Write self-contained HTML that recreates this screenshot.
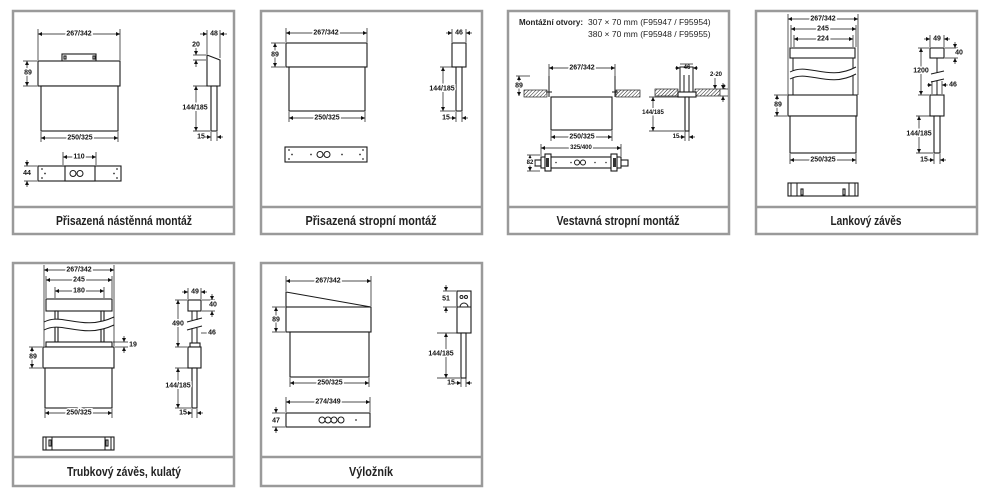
<!DOCTYPE html>
<html><head><meta charset="utf-8"><style>
html,body{margin:0;padding:0;background:#fff}
svg{display:block}
.d{font-family:"Liberation Sans",sans-serif;font-size:7px;font-weight:bold;text-anchor:middle;fill:#111;stroke:#fff;stroke-width:3;paint-order:stroke;dominant-baseline:central}
.l{font-family:"Liberation Sans",sans-serif;font-size:12.5px;font-weight:bold;text-anchor:middle;fill:#222}
.t{font-family:"Liberation Sans",sans-serif;font-size:8.5px;fill:#222}
.dl{stroke:#111;stroke-width:.7;fill:none}
.o{stroke:#1a1a1a;stroke-width:1.1;fill:#fff}
.w{stroke:#1a1a1a;stroke-width:1;fill:none}
.p{fill:none;stroke:#9a9a9a;stroke-width:2.5}
</style></head><body>
<svg width="1000" height="497" viewBox="0 0 1000 497" xmlns="http://www.w3.org/2000/svg">
<defs>
<marker id="a" viewBox="0 0 6 6" refX="6" refY="3" markerUnits="userSpaceOnUse" markerWidth="4" markerHeight="4" orient="auto-start-reverse"><path d="M0,0L6,3L0,6z" fill="#111"/></marker>
<pattern id="h" width="2.5" height="2.5" patternUnits="userSpaceOnUse" patternTransform="rotate(45)"><line x1="0" y1="0" x2="0" y2="2.5" stroke="#222" stroke-width="1"/></pattern>
</defs>

<g class="p">
<rect x="13" y="11" width="221" height="223"/><line x1="13" y1="207" x2="234" y2="207"/>
<rect x="261" y="11" width="221" height="223"/><line x1="261" y1="207" x2="482" y2="207"/>
<rect x="508" y="11" width="221" height="223"/><line x1="508" y1="207" x2="729" y2="207"/>
<rect x="756" y="11" width="221" height="223"/><line x1="756" y1="207" x2="977" y2="207"/>
<rect x="13" y="263" width="221" height="223"/><line x1="13" y1="457" x2="234" y2="457"/>
<rect x="261" y="263" width="221" height="223"/><line x1="261" y1="457" x2="482" y2="457"/>
</g>
<text class="l" x="124" y="225" textLength="136" lengthAdjust="spacingAndGlyphs">Přisazená nástěnná montáž</text>
<text class="l" x="371" y="225" textLength="131" lengthAdjust="spacingAndGlyphs">Přisazená stropní montáž</text>
<text class="l" x="618" y="225" textLength="123" lengthAdjust="spacingAndGlyphs">Vestavná stropní montáž</text>
<text class="l" x="866" y="225" textLength="71" lengthAdjust="spacingAndGlyphs">Lankový závěs</text>
<text class="l" x="124" y="476" textLength="114" lengthAdjust="spacingAndGlyphs">Trubkový závěs, kulatý</text>
<text class="l" x="371" y="476" textLength="44" lengthAdjust="spacingAndGlyphs">Výložník</text>

<!-- PANEL 1 -->
<rect class="o" x="62" y="54" width="34" height="7"/>
<rect class="o" x="64" y="56" width="2" height="3"/><rect class="o" x="93" y="56" width="2" height="3"/>
<rect class="o" x="38" y="61" width="82" height="25"/>
<rect class="o" x="41" y="86" width="77" height="45"/>
<g class="dl"><line x1="38" y1="29" x2="38" y2="60"/><line x1="120" y1="29" x2="120" y2="60"/>
<line x1="38" y1="34" x2="120" y2="34" marker-start="url(#a)" marker-end="url(#a)"/>
<line x1="23" y1="61" x2="37" y2="61"/><line x1="23" y1="86" x2="37" y2="86"/>
<line x1="27" y1="61" x2="27" y2="86" marker-start="url(#a)" marker-end="url(#a)"/>
<line x1="41" y1="132" x2="41" y2="142"/><line x1="118" y1="132" x2="118" y2="142"/>
<line x1="41" y1="138" x2="118" y2="138" marker-start="url(#a)" marker-end="url(#a)"/></g>
<text class="d" x="79" y="34">267/342</text><text class="d" x="28" y="73">89</text><text class="d" x="80" y="138">250/325</text>
<path class="o" d="M207,55 L220,60 L220,86 L207,86 Z"/>
<rect class="o" x="211" y="86" width="6" height="45"/>
<g class="dl"><line x1="207" y1="30" x2="207" y2="54"/><line x1="220" y1="30" x2="220" y2="58"/>
<line x1="200" y1="34" x2="207" y2="34" marker-end="url(#a)"/><line x1="227" y1="34" x2="220" y2="34" marker-end="url(#a)"/>
<line x1="193" y1="55" x2="206" y2="55"/><line x1="193" y1="60" x2="206" y2="60"/>
<line x1="196" y1="48" x2="196" y2="55" marker-end="url(#a)"/><line x1="196" y1="67" x2="196" y2="60" marker-end="url(#a)"/>
<line x1="193" y1="86" x2="210" y2="86"/><line x1="193" y1="131" x2="210" y2="131"/>
<line x1="196" y1="86" x2="196" y2="131" marker-start="url(#a)" marker-end="url(#a)"/>
<line x1="211" y1="132" x2="211" y2="141"/><line x1="217" y1="132" x2="217" y2="141"/>
<line x1="205" y1="137" x2="211" y2="137" marker-end="url(#a)"/><line x1="223" y1="137" x2="217" y2="137" marker-end="url(#a)"/></g>
<text class="d" x="214" y="34" style="stroke-width:0">48</text><text class="d" x="196" y="45" style="stroke-width:0">20</text>
<text class="d" x="195" y="108">144/185</text><text class="d" x="201" y="137" style="stroke-width:0">15</text>
<rect class="o" x="38" y="166" width="83" height="15"/>
<rect class="o" x="65" y="166" width="30" height="15"/>
<circle class="w" cx="73" cy="173.5" r="3"/><circle class="w" cx="80" cy="173.5" r="3"/>
<g fill="#333"><circle cx="42" cy="169" r=".9"/><circle cx="42" cy="178" r=".9"/><circle cx="45" cy="173.5" r=".9"/><circle cx="117" cy="169" r=".9"/><circle cx="117" cy="178" r=".9"/><circle cx="114" cy="173.5" r=".9"/></g>
<g class="dl"><line x1="63" y1="152" x2="63" y2="165"/><line x1="96" y1="152" x2="96" y2="165"/>
<line x1="63" y1="157" x2="96" y2="157" marker-start="url(#a)" marker-end="url(#a)"/>
<line x1="24" y1="166" x2="37" y2="166"/><line x1="24" y1="181" x2="37" y2="181"/>
<line x1="27" y1="160" x2="27" y2="166" marker-end="url(#a)"/><line x1="27" y1="187" x2="27" y2="181" marker-end="url(#a)"/></g>
<text class="d" x="79" y="157">110</text><text class="d" x="27" y="173.5">44</text>

<!-- PANEL 2 -->
<rect class="o" x="286" y="43" width="81" height="24"/>
<rect class="o" x="289" y="67" width="76" height="44"/>
<g class="dl"><line x1="286" y1="28" x2="286" y2="42"/><line x1="367" y1="28" x2="367" y2="42"/>
<line x1="286" y1="33" x2="367" y2="33" marker-start="url(#a)" marker-end="url(#a)"/>
<line x1="271" y1="43" x2="285" y2="43"/><line x1="271" y1="67" x2="285" y2="67"/>
<line x1="275" y1="43" x2="275" y2="67" marker-start="url(#a)" marker-end="url(#a)"/>
<line x1="289" y1="112" x2="289" y2="122"/><line x1="365" y1="112" x2="365" y2="122"/>
<line x1="289" y1="118" x2="365" y2="118" marker-start="url(#a)" marker-end="url(#a)"/></g>
<text class="d" x="326" y="33">267/342</text><text class="d" x="275" y="55">89</text><text class="d" x="327" y="118">250/325</text>
<rect class="o" x="452" y="43" width="14" height="24"/>
<rect class="o" x="456" y="67" width="6" height="44"/>
<g class="dl"><line x1="452" y1="29" x2="452" y2="42"/><line x1="466" y1="29" x2="466" y2="42"/>
<line x1="446" y1="33" x2="452" y2="33" marker-end="url(#a)"/><line x1="472" y1="33" x2="466" y2="33" marker-end="url(#a)"/>
<line x1="440" y1="67" x2="455" y2="67"/><line x1="440" y1="111" x2="455" y2="111"/>
<line x1="443" y1="67" x2="443" y2="111" marker-start="url(#a)" marker-end="url(#a)"/>
<line x1="456" y1="112" x2="456" y2="122"/><line x1="462" y1="112" x2="462" y2="122"/>
<line x1="450" y1="118" x2="456" y2="118" marker-end="url(#a)"/><line x1="468" y1="118" x2="462" y2="118" marker-end="url(#a)"/></g>
<text class="d" x="459" y="33" style="stroke-width:0">46</text><text class="d" x="442" y="89">144/185</text><text class="d" x="446" y="118" style="stroke-width:0">15</text>
<rect class="o" x="285" y="147" width="82" height="15"/>
<circle class="w" cx="320" cy="154.5" r="3"/><circle class="w" cx="327" cy="154.5" r="3"/>
<g fill="#333"><circle cx="289" cy="150" r=".9"/><circle cx="289" cy="159" r=".9"/><circle cx="292" cy="154.5" r=".9"/><circle cx="311" cy="154.5" r=".9"/><circle cx="342" cy="154.5" r=".9"/><circle cx="363" cy="150" r=".9"/><circle cx="363" cy="159" r=".9"/><circle cx="360" cy="154.5" r=".9"/></g>

<!-- PANEL 3 -->
<text class="t" x="519" y="25" style="font-weight:bold" textLength="64" lengthAdjust="spacingAndGlyphs">Montážní otvory:</text>
<text class="t" x="588" y="25">307 × 70 mm (F95947 / F95954)</text>
<text class="t" x="588" y="37">380 × 70 mm (F95948 / F95955)</text>
<rect x="524" y="90" width="23" height="7" fill="url(#h)" stroke="#222" stroke-width=".7"/>
<rect x="616" y="90" width="24" height="7" fill="url(#h)" stroke="#222" stroke-width=".7"/>
<path class="w" d="M549,76 L549,97 M615,76 L615,97 M546,92 L552,92 M612,92 L618,92"/>
<rect class="o" x="551" y="97" width="61" height="33"/>
<g class="dl"><line x1="549" y1="64" x2="549" y2="76"/><line x1="615" y1="64" x2="615" y2="76"/>
<line x1="549" y1="68" x2="615" y2="68" marker-start="url(#a)" marker-end="url(#a)"/>
<line x1="516" y1="76" x2="530" y2="76"/>
<line x1="519" y1="76" x2="519" y2="96" marker-start="url(#a)" marker-end="url(#a)"/>
<line x1="551" y1="131" x2="551" y2="141"/><line x1="612" y1="131" x2="612" y2="141"/>
<line x1="551" y1="137" x2="612" y2="137" marker-start="url(#a)" marker-end="url(#a)"/></g>
<text class="d" x="582" y="68">267/342</text><text class="d" x="519" y="86">89</text><text class="d" x="582" y="137">250/325</text>
<rect x="655" y="89" width="23" height="7" fill="url(#h)" stroke="#222" stroke-width=".7"/>
<rect x="695" y="89" width="25" height="7" fill="url(#h)" stroke="#222" stroke-width=".7"/>
<path class="w" d="M680,92 L680,67 L693,67 L693,92 M684,92 L684,75 M689,92 L689,75"/>
<rect class="o" x="678" y="92" width="18" height="5"/>
<rect class="o" x="685" y="97" width="4" height="34"/>
<g class="dl"><line x1="680" y1="64" x2="693" y2="64"/>
<line x1="675" y1="68" x2="680" y2="68" marker-end="url(#a)"/><line x1="698" y1="68" x2="693" y2="68" marker-end="url(#a)"/>
<line x1="715" y1="78" x2="715" y2="89" marker-end="url(#a)"/>
<line x1="720" y1="89" x2="728" y2="89"/><line x1="720" y1="96" x2="728" y2="96"/>
<line x1="723" y1="83" x2="723" y2="89" marker-end="url(#a)"/><line x1="723" y1="102" x2="723" y2="96" marker-end="url(#a)"/>
<line x1="649" y1="97" x2="684" y2="97"/><line x1="649" y1="131" x2="684" y2="131"/>
<line x1="653" y1="97" x2="653" y2="131" marker-start="url(#a)" marker-end="url(#a)"/>
<line x1="685" y1="131" x2="685" y2="141"/><line x1="689" y1="131" x2="689" y2="141"/>
<line x1="679" y1="137" x2="685" y2="137" marker-end="url(#a)"/><line x1="695" y1="137" x2="689" y2="137" marker-end="url(#a)"/></g>
<text class="d" x="687" y="68" style="stroke-width:0;font-size:6px">46</text><text class="d" x="716" y="75" style="stroke-width:0;font-size:6px">2-20</text>
<text class="d" x="724" y="88" style="stroke-width:0;font-size:6px">2</text>
<text class="d" x="653" y="113" style="font-size:6px">144/185</text><text class="d" x="676" y="137" style="stroke-width:0;font-size:6px">15</text>
<rect class="o" x="535" y="160" width="93" height="6"/>
<rect class="o" x="541" y="157" width="80" height="11"/>
<rect class="o" x="545" y="154" width="6" height="17"/><rect class="o" x="611" y="154" width="6" height="17"/>
<rect fill="#333" x="546" y="158" width="3" height="9"/><rect fill="#333" x="613" y="158" width="3" height="9"/>
<circle class="w" cx="577" cy="162.5" r="2.5"/><circle class="w" cx="583" cy="162.5" r="2.5"/>
<g fill="#333"><circle cx="556" cy="162.5" r=".8"/><circle cx="571" cy="162.5" r=".8"/><circle cx="595" cy="162.5" r=".8"/><circle cx="606" cy="162.5" r=".8"/></g>
<g class="dl"><line x1="541" y1="144" x2="541" y2="156"/><line x1="621" y1="144" x2="621" y2="156"/>
<line x1="541" y1="148" x2="621" y2="148" marker-start="url(#a)" marker-end="url(#a)"/>
<line x1="527" y1="155" x2="540" y2="155"/><line x1="527" y1="171" x2="540" y2="171"/>
<line x1="530" y1="155" x2="530" y2="171" marker-start="url(#a)" marker-end="url(#a)"/></g>
<text class="d" x="581" y="148" style="font-size:6px">325/400</text><text class="d" x="530" y="163" style="font-size:6px">82</text>

<!-- PANEL 4 -->
<rect class="o" x="790" y="48" width="65" height="10"/>
<path class="w" d="M793,58 L793,95 M853,58 L853,95"/>
<path d="M790,72 C808,62 828,82 856,67 L856,74 C828,89 808,69 790,79 Z" fill="#fff" stroke="none"/>
<path class="w" d="M790,72 C808,62 828,82 856,67 M790,79 C808,69 828,89 856,74"/>
<rect class="o" x="788" y="95" width="69" height="21"/>
<rect class="o" x="790" y="116" width="66" height="37"/>
<g class="dl"><line x1="788" y1="14" x2="788" y2="95"/><line x1="858" y1="14" x2="858" y2="95"/>
<line x1="788" y1="19" x2="858" y2="19" marker-start="url(#a)" marker-end="url(#a)"/>
<line x1="791" y1="25" x2="791" y2="47"/><line x1="856" y1="25" x2="856" y2="47"/>
<line x1="791" y1="29" x2="856" y2="29" marker-start="url(#a)" marker-end="url(#a)"/>
<line x1="794" y1="35" x2="794" y2="47"/><line x1="853" y1="35" x2="853" y2="47"/>
<line x1="794" y1="39" x2="853" y2="39" marker-start="url(#a)" marker-end="url(#a)"/>
<line x1="774" y1="95" x2="787" y2="95"/><line x1="774" y1="116" x2="787" y2="116"/>
<line x1="777" y1="95" x2="777" y2="116" marker-start="url(#a)" marker-end="url(#a)"/>
<line x1="790" y1="154" x2="790" y2="164"/><line x1="856" y1="154" x2="856" y2="164"/>
<line x1="790" y1="160" x2="856" y2="160" marker-start="url(#a)" marker-end="url(#a)"/></g>
<text class="d" x="823" y="19">267/342</text><text class="d" x="823" y="29">245</text><text class="d" x="823" y="39">224</text>
<text class="d" x="778" y="105">89</text><text class="d" x="823" y="160">250/325</text>
<rect class="o" x="788" y="183" width="70" height="13"/>
<path class="w" d="M791,183 L791,196 M855,183 L855,196 M797,183 L797,196 M849,183 L849,196"/>
<rect class="o" x="801" y="189" width="2" height="6"/><rect class="o" x="843" y="189" width="2" height="6"/>
<rect class="o" x="930" y="48" width="14" height="10"/>
<path class="w" d="M937,58 L937,73 M937,81 L937,95 M931,74 L944,71 M931,82 L944,79"/>
<rect class="o" x="930" y="95" width="14" height="21"/>
<rect class="o" x="934" y="116" width="6" height="37"/>
<g class="dl"><line x1="930" y1="35" x2="930" y2="47"/><line x1="944" y1="35" x2="944" y2="47"/>
<line x1="924" y1="39" x2="930" y2="39" marker-end="url(#a)"/><line x1="950" y1="39" x2="944" y2="39" marker-end="url(#a)"/>
<line x1="945" y1="48" x2="958" y2="48"/><line x1="945" y1="58" x2="958" y2="58"/>
<line x1="955" y1="42" x2="955" y2="48" marker-end="url(#a)"/><line x1="955" y1="64" x2="955" y2="58" marker-end="url(#a)"/>
<line x1="918" y1="48" x2="929" y2="48"/><line x1="918" y1="95" x2="929" y2="95"/>
<line x1="921" y1="48" x2="921" y2="95" marker-start="url(#a)" marker-end="url(#a)"/>
<line x1="932" y1="81" x2="932" y2="94"/><line x1="942" y1="81" x2="942" y2="94"/>
<line x1="927" y1="85" x2="932" y2="85" marker-end="url(#a)"/><line x1="948" y1="85" x2="942" y2="85" marker-end="url(#a)"/>
<line x1="916" y1="116" x2="933" y2="116"/><line x1="916" y1="153" x2="933" y2="153"/>
<line x1="919" y1="116" x2="919" y2="153" marker-start="url(#a)" marker-end="url(#a)"/>
<line x1="934" y1="154" x2="934" y2="164"/><line x1="940" y1="154" x2="940" y2="164"/>
<line x1="928" y1="160" x2="934" y2="160" marker-end="url(#a)"/><line x1="946" y1="160" x2="940" y2="160" marker-end="url(#a)"/></g>
<text class="d" x="937" y="39" style="stroke-width:0">49</text><text class="d" x="959" y="53">40</text>
<text class="d" x="921" y="71">1200</text><text class="d" x="953" y="85">46</text>
<text class="d" x="919" y="134">144/185</text><text class="d" x="924" y="160" style="stroke-width:0">15</text>

<!-- PANEL 5 -->
<rect class="o" x="46" y="299" width="66" height="12"/>
<rect class="o" x="55" y="311" width="3" height="31"/><rect class="o" x="101" y="311" width="3" height="31"/>
<path d="M44,322 C62,312 82,332 114,317 L114,325 C82,340 62,320 44,330 Z" fill="#fff" stroke="none"/>
<path class="w" d="M44,322 C62,312 82,332 114,317 M44,330 C62,320 82,340 114,325"/>
<rect class="o" x="46" y="342" width="66" height="5"/>
<rect class="o" x="43" y="347" width="71" height="21"/>
<rect class="o" x="45" y="368" width="67" height="40"/>
<g class="dl"><line x1="44" y1="265" x2="44" y2="346"/><line x1="114" y1="265" x2="114" y2="346"/>
<line x1="44" y1="270" x2="114" y2="270" marker-start="url(#a)" marker-end="url(#a)"/>
<line x1="46" y1="276" x2="46" y2="298"/><line x1="112" y1="276" x2="112" y2="298"/>
<line x1="46" y1="280" x2="112" y2="280" marker-start="url(#a)" marker-end="url(#a)"/>
<line x1="55" y1="287" x2="55" y2="298"/><line x1="104" y1="287" x2="104" y2="298"/>
<line x1="55" y1="291" x2="104" y2="291" marker-start="url(#a)" marker-end="url(#a)"/>
<line x1="113" y1="342" x2="128" y2="342"/><line x1="115" y1="347" x2="128" y2="347"/>
<line x1="124" y1="336" x2="124" y2="342" marker-end="url(#a)"/><line x1="124" y1="353" x2="124" y2="347" marker-end="url(#a)"/>
<line x1="29" y1="347" x2="42" y2="347"/><line x1="29" y1="368" x2="42" y2="368"/>
<line x1="32" y1="347" x2="32" y2="368" marker-start="url(#a)" marker-end="url(#a)"/>
<line x1="45" y1="409" x2="45" y2="418"/><line x1="112" y1="409" x2="112" y2="418"/>
<line x1="45" y1="413" x2="112" y2="413" marker-start="url(#a)" marker-end="url(#a)"/></g>
<text class="d" x="79" y="270">267/342</text><text class="d" x="79" y="280">245</text><text class="d" x="79" y="291">180</text>
<text class="d" x="133" y="345" style="stroke-width:0">19</text><text class="d" x="33" y="357">89</text><text class="d" x="79" y="413">250/325</text>
<rect class="o" x="43" y="437" width="71" height="13"/>
<path class="w" d="M46,437 L46,450 M111,437 L111,450 M52,437 L52,450 M105,437 L105,450"/>
<rect class="o" x="49" y="440" width="2" height="6"/><rect class="o" x="106" y="440" width="2" height="6"/>
<rect class="o" x="188" y="300" width="13" height="11"/>
<path class="w" d="M192,311 L192,320 M197,311 L197,320 M192,328 L192,343 M197,328 L197,343 M187,322 L202,318 M187,330 L202,326"/>
<rect class="o" x="190" y="343" width="10" height="4"/>
<rect class="o" x="188" y="347" width="13" height="21"/>
<rect class="o" x="192" y="368" width="5" height="40"/>
<g class="dl"><line x1="188" y1="288" x2="188" y2="299"/><line x1="201" y1="288" x2="201" y2="299"/>
<line x1="182" y1="292" x2="188" y2="292" marker-end="url(#a)"/><line x1="207" y1="292" x2="201" y2="292" marker-end="url(#a)"/>
<line x1="202" y1="300" x2="215" y2="300"/><line x1="202" y1="311" x2="215" y2="311"/>
<line x1="212" y1="294" x2="212" y2="300" marker-end="url(#a)"/><line x1="212" y1="317" x2="212" y2="311" marker-end="url(#a)"/>
<line x1="175" y1="300" x2="187" y2="300"/><line x1="175" y1="347" x2="187" y2="347"/>
<line x1="178" y1="300" x2="178" y2="347" marker-start="url(#a)" marker-end="url(#a)"/>
<line x1="201" y1="333" x2="207" y2="333"/>
<line x1="175" y1="368" x2="191" y2="368"/><line x1="175" y1="408" x2="191" y2="408"/>
<line x1="178" y1="368" x2="178" y2="408" marker-start="url(#a)" marker-end="url(#a)"/>
<line x1="192" y1="409" x2="192" y2="418"/><line x1="197" y1="409" x2="197" y2="418"/>
<line x1="186" y1="413" x2="192" y2="413" marker-end="url(#a)"/><line x1="203" y1="413" x2="197" y2="413" marker-end="url(#a)"/></g>
<text class="d" x="195" y="292" style="stroke-width:0">49</text><text class="d" x="213" y="305">40</text>
<text class="d" x="178" y="324">490</text><text class="d" x="212" y="333">46</text>
<text class="d" x="178" y="386">144/185</text><text class="d" x="183" y="413" style="stroke-width:0">15</text>

<!-- PANEL 6 -->
<path class="o" d="M286,292 L371,307 L286,307 Z"/>
<rect class="o" x="286" y="307" width="85" height="25"/>
<rect class="o" x="290" y="332" width="79" height="45"/>
<g class="dl"><line x1="286" y1="276" x2="286" y2="291"/><line x1="371" y1="276" x2="371" y2="306"/>
<line x1="286" y1="281" x2="371" y2="281" marker-start="url(#a)" marker-end="url(#a)"/>
<line x1="272" y1="307" x2="285" y2="307"/><line x1="272" y1="332" x2="285" y2="332"/>
<line x1="276" y1="307" x2="276" y2="332" marker-start="url(#a)" marker-end="url(#a)"/>
<line x1="290" y1="378" x2="290" y2="387"/><line x1="369" y1="378" x2="369" y2="387"/>
<line x1="290" y1="383" x2="369" y2="383" marker-start="url(#a)" marker-end="url(#a)"/></g>
<text class="d" x="328" y="281">267/342</text><text class="d" x="276" y="320">89</text><text class="d" x="330" y="383">250/325</text>
<rect class="o" x="457" y="291" width="14" height="42"/>
<line class="w" x1="457" y1="307" x2="471" y2="307"/>
<circle class="w" cx="461.5" cy="297" r="1.5"/><circle class="w" cx="466" cy="297" r="1.5"/>
<path class="w" d="M460,307 A4,4 0 0 1 468,307"/>
<rect class="o" x="461" y="333" width="5" height="45"/>
<g class="dl"><line x1="443" y1="291" x2="456" y2="291"/><line x1="443" y1="307" x2="456" y2="307"/>
<line x1="446" y1="285" x2="446" y2="291" marker-end="url(#a)"/><line x1="446" y1="313" x2="446" y2="307" marker-end="url(#a)"/>
<line x1="437" y1="333" x2="460" y2="333"/><line x1="437" y1="378" x2="460" y2="378"/>
<line x1="446" y1="333" x2="446" y2="378" marker-start="url(#a)" marker-end="url(#a)"/>
<line x1="461" y1="378" x2="461" y2="387"/><line x1="466" y1="378" x2="466" y2="387"/>
<line x1="455" y1="383" x2="461" y2="383" marker-end="url(#a)"/><line x1="472" y1="383" x2="466" y2="383" marker-end="url(#a)"/></g>
<text class="d" x="446" y="299">51</text><text class="d" x="441" y="354">144/185</text><text class="d" x="451" y="383" style="stroke-width:0">15</text>
<rect class="o" x="286" y="413" width="84" height="14"/>
<circle class="w" cx="322" cy="420" r="3"/><circle class="w" cx="328" cy="420" r="3"/><circle class="w" cx="334" cy="420" r="3"/><circle class="w" cx="341" cy="420" r="3"/>
<circle cx="356" cy="420" r=".9" fill="#333"/>
<g class="dl"><line x1="286" y1="397" x2="286" y2="412"/><line x1="370" y1="397" x2="370" y2="412"/>
<line x1="286" y1="402" x2="370" y2="402" marker-start="url(#a)" marker-end="url(#a)"/>
<line x1="272" y1="413" x2="285" y2="413"/><line x1="272" y1="427" x2="285" y2="427"/>
<line x1="276" y1="407" x2="276" y2="413" marker-end="url(#a)"/><line x1="276" y1="433" x2="276" y2="427" marker-end="url(#a)"/></g>
<text class="d" x="328" y="402">274/349</text><text class="d" x="276" y="421">47</text>
</svg>
</body></html>
